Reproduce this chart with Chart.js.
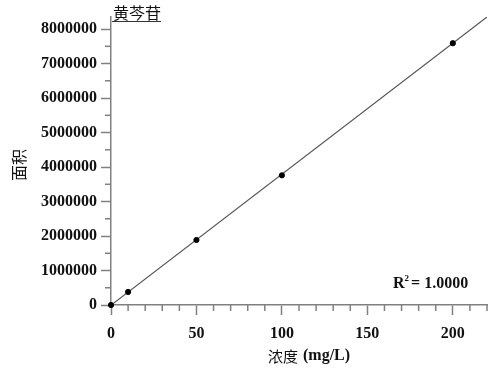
<!DOCTYPE html>
<html>
<head>
<meta charset="utf-8">
<script src="https://cdn.jsdelivr.net/npm/chart.js@4"></script>
<style>
  html, body { margin: 0; padding: 0; background: #fff; }
  #wrap { width: 500px; height: 374px; position: relative; }
</style>
</head>
<body>
<div id="wrap"><canvas id="chart"></canvas></div>
<script>
// --- data ---
const concX = [0, 10, 50, 100, 200];                       // mg/L
const areaY = [0, 378000, 1885000, 3760000, 7590000];      // peak area
const fitX = [0, 220];                                     // regression line ends
const fitY = [-5000, 8350000];
const xTickValues = [0, 50, 100, 150, 200];
const yTickValues = [0, 1000000, 2000000, 3000000, 4000000, 5000000, 6000000, 7000000, 8000000];
const titleText = '黄芩苷';
const yTitleText = '面积';
const xTitleCjk = '浓度';
const xTitleUnit = '(mg/L)';
const r2Text = '= 1.0000';

const AXIS = '#808080';
const SERIF = "'Liberation Serif', 'Noto Sans CJK SC', serif";
const CJK = "'Noto Sans CJK SC', serif";

// --- minor ticks + extra text ---
const extrasPlugin = {
  id: 'extras',
  afterDraw(chart) {
    const { ctx, chartArea, scales } = chart;
    const xs = scales.x, ys = scales.y;
    ctx.save();
    ctx.strokeStyle = AXIS;
    ctx.lineWidth = 1.5;
    // minor ticks x (every 10)
    for (let v = 10; v <= xs.max; v += 10) {
      if (v % 50 === 0) continue;
      const px = xs.getPixelForValue(v);
      ctx.beginPath();
      ctx.moveTo(px, chartArea.bottom);
      ctx.lineTo(px, chartArea.bottom + 6);
      ctx.stroke();
    }
    // minor ticks y (every 500000)
    for (let v = 500000; v <= ys.max; v += 1000000) {
      const py = ys.getPixelForValue(v);
      ctx.beginPath();
      ctx.moveTo(chartArea.left, py);
      ctx.lineTo(chartArea.left - 6, py);
      ctx.stroke();
    }

    ctx.fillStyle = '#111';
    // title with underline
    ctx.font = '16px ' + CJK;
    ctx.textBaseline = 'alphabetic';
    ctx.textAlign = 'left';
    ctx.fillText(titleText, 113, 19);
    const tw = ctx.measureText(titleText).width;
    ctx.strokeStyle = '#333';
    ctx.lineWidth = 1;
    ctx.beginPath();
    ctx.moveTo(112, 21.5);
    ctx.lineTo(113 + tw, 21.5);
    ctx.stroke();

    // y title
    ctx.save();
    ctx.translate(19, 165);
    ctx.rotate(-Math.PI / 2);
    ctx.textAlign = 'center';
    ctx.textBaseline = 'middle';
    ctx.font = '16px ' + CJK;
    ctx.fillText(yTitleText, 0, 0);
    ctx.restore();

    // x title
    ctx.textBaseline = 'middle';
    ctx.textAlign = 'left';
    ctx.font = '15px ' + CJK;
    ctx.fillText(xTitleCjk, 268, 356);
    const cw = ctx.measureText(xTitleCjk).width;
    ctx.font = 'bold 16px ' + SERIF;
    ctx.fillText(xTitleUnit, 268 + cw + 5, 356);

    // R^2 label
    ctx.textBaseline = 'alphabetic';
    ctx.font = 'bold 16px ' + SERIF;
    ctx.fillText('R', 393, 288);
    let x = 393 + ctx.measureText('R').width;
    ctx.font = 'bold 9px ' + SERIF;
    ctx.fillText('2', x, 281);
    x += ctx.measureText('2').width + 2;
    ctx.font = 'bold 16px ' + SERIF;
    ctx.fillText(r2Text, x, 288);
    ctx.restore();
  }
};

const ctx = document.getElementById('chart').getContext('2d');
new Chart(ctx, {
  type: 'scatter',
  data: {
    datasets: [
      {
        type: 'line',
        data: fitX.map((x, i) => ({ x: x, y: fitY[i] })),
        borderColor: '#555',
        borderWidth: 1.2,
        pointRadius: 0,
        fill: false,
        order: 2
      },
      {
        data: concX.map((x, i) => ({ x: x, y: areaY[i] })),
        backgroundColor: '#000',
        borderColor: '#000',
        pointRadius: 2.6,
        clip: false,
        order: 1
      }
    ]
  },
  options: {
    responsive: true,
    maintainAspectRatio: false,
    animation: false,
    layout: { padding: { top: 17, right: 13, left: 10, bottom: 0 } },
    plugins: { legend: { display: false }, tooltip: { enabled: false } },
    scales: {
      x: {
        type: 'linear',
        min: 0,
        max: 220,
        afterBuildTicks: s => { s.ticks = xTickValues.map(v => ({ value: v })); },
        afterFit: s => { s.height = 69; },
        border: { display: true, color: AXIS, width: 1.5 },
        grid: { drawOnChartArea: false, drawTicks: true, tickLength: 10, tickColor: AXIS, tickWidth: 1.5 },
        ticks: { color: '#111', padding: 9, maxRotation: 0, font: { family: SERIF, size: 16, weight: 'bold' } }
      },
      y: {
        type: 'linear',
        min: 0,
        max: 8350000,
        afterBuildTicks: s => { s.ticks = yTickValues.map(v => ({ value: v })); },
        afterFit: s => { s.width = 101; },
        border: { display: true, color: AXIS, width: 1.5 },
        grid: { drawOnChartArea: false, drawTicks: true, tickLength: 10, tickColor: AXIS, tickWidth: 1.5 },
        ticks: { color: '#111', padding: 4, font: { family: SERIF, size: 16, weight: 'bold' }, callback: v => String(v) }
      }
    }
  },
  plugins: [extrasPlugin]
});
</script>
</body>
</html>
